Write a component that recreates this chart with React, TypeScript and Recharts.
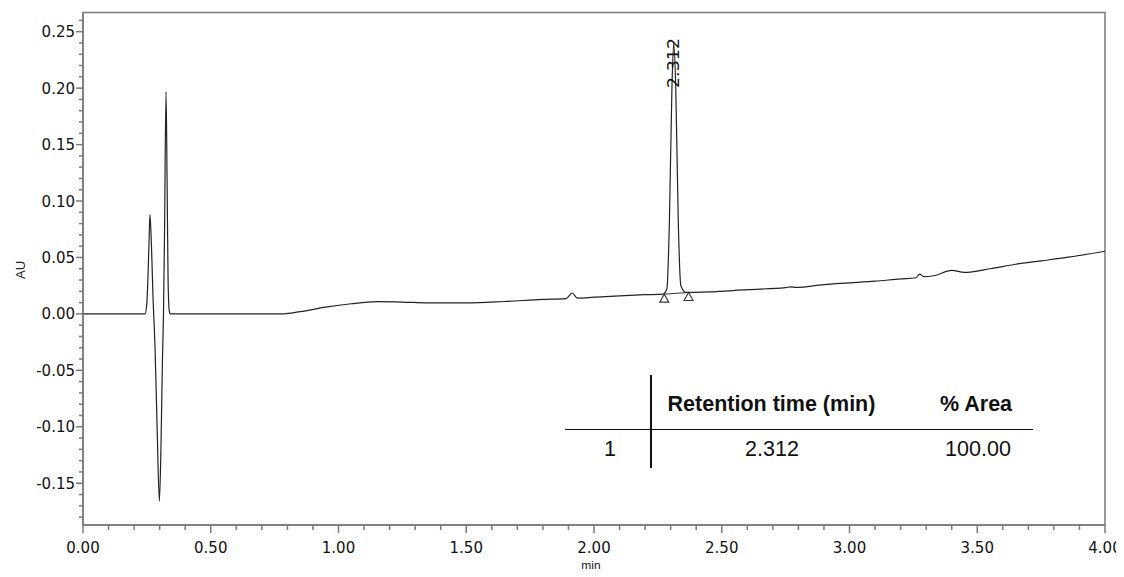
import React from "react";
import {
  ComposedChart,
  Line,
  Scatter,
  XAxis,
  YAxis,
  ReferenceArea,
  ReferenceDot,
  ReferenceLine,
} from "recharts";

// retention time (min) and absorbance (AU)
const times = [
  0, 0.2, 0.243, 0.25, 0.258, 0.262, 0.268, 0.274, 0.282, 0.29, 0.299, 0.305,
  0.311, 0.315, 0.319, 0.325, 0.329, 0.333, 0.337, 0.341, 0.5, 0.78, 0.85,
  0.95, 1.05, 1.15, 1.25, 1.35, 1.5, 1.65, 1.8, 1.89, 1.915, 1.935, 2.0, 2.1,
  2.2, 2.27, 2.285, 2.295, 2.305, 2.312, 2.32, 2.33, 2.34, 2.36, 2.45, 2.6,
  2.75, 2.77, 2.79, 2.9, 3.0, 3.1, 3.2, 3.26, 3.275, 3.29, 3.33, 3.4, 3.45,
  3.55, 3.65, 3.75, 3.85, 4.0,
];
const absorbance = [
  0, 0, 0, 0.01, 0.06, 0.088, 0.06, 0.015, -0.03, -0.1, -0.166, -0.12, -0.04,
  0.0, 0.07, 0.197, 0.12, 0.03, 0.004, 0, 0, 0, 0.002, 0.006, 0.009, 0.0108,
  0.0105, 0.0098, 0.0098, 0.011, 0.0128, 0.0135, 0.0185, 0.014, 0.0148, 0.016,
  0.017, 0.0175, 0.022, 0.08, 0.2, 0.24, 0.2, 0.08, 0.025, 0.019, 0.0195,
  0.0215, 0.0233, 0.024, 0.0235, 0.026, 0.0275, 0.029, 0.031, 0.032, 0.0352,
  0.033, 0.0338, 0.0385, 0.0368, 0.04, 0.044, 0.047, 0.05, 0.0555,
];

// integration start / end markers of the main peak
const markerTimes = [2.275, 2.37];
const markerValues = [0.0175, 0.019];

const peakTime = 2.312;
const peakValue = 0.24;
const peakLabel = "2.312";

const xTicks = Array.from({ length: 41 }, (_, i) => i / 10);
const yTicks = Array.from({ length: 45 }, (_, i) => (i - 18) / 100);

const tableHeader = ["", "Retention time (min)", "% Area"];
const tableRow = ["1", "2.312", "100.00"];

const xDomain: [number, number] = [0, 4];
const yDomain: [number, number] = [-0.187, 0.267];

const trace = times.map((t, i) => ({ t, au: absorbance[i] }));
const markers = markerTimes.map((t, i) => ({ t, au: markerValues[i] }));

const axisColor = "#7a7a7a";
const tickFont = "'DejaVu Sans', Verdana, sans-serif";

const XTick = (props: any) => {
  const { x, y, payload } = props;
  const v = payload.value as number;
  const major = Math.round(v * 10) % 5 === 0;
  return (
    <g>
      <line x1={x} x2={x} y1={y} y2={y + (major ? 8 : 5)} stroke={axisColor} strokeWidth={1.5} />
      {major && (
        <text x={x} y={y + 28} textAnchor="middle" fontSize={15} fontFamily={tickFont} fill="#111">
          {v.toFixed(2)}
        </text>
      )}
    </g>
  );
};

const YTick = (props: any) => {
  const { x, y, payload } = props;
  const v = payload.value as number;
  const major = Math.round(v * 100) % 5 === 0;
  return (
    <g>
      <line x1={x - (major ? 7 : 4)} x2={x} y1={y} y2={y} stroke={axisColor} strokeWidth={1.5} />
      {major && (
        <text x={x - 8} y={y + 5.5} textAnchor="end" fontSize={15} fontFamily={tickFont} fill="#111">
          {v.toFixed(2)}
        </text>
      )}
    </g>
  );
};

const Triangle = (props: any) => {
  const { cx, cy } = props;
  return (
    <polygon
      points={`${cx},${cy} ${cx - 4.5},${cy + 8} ${cx + 4.5},${cy + 8}`}
      fill="#fff"
      stroke="#333"
      strokeWidth={1.1}
    />
  );
};

const PeakLabel = (props: any) => {
  const { cx, cy } = props;
  const x0 = cx + 5.5;
  const y0 = cy + 45;
  return (
    <text
      x={x0}
      y={y0}
      transform={`rotate(-90, ${x0}, ${y0})`}
      fontSize={16}
      fontFamily={tickFont}
      fill="#111"
      textLength={50}
      lengthAdjust="spacingAndGlyphs"
    >
      {peakLabel}
    </text>
  );
};

const cellFont: React.CSSProperties = {
  position: "absolute",
  fontFamily: "'Liberation Sans', Arial, sans-serif",
  fontSize: 21.5,
  color: "#111",
  whiteSpace: "nowrap",
  transform: "translateX(-50%)",
  lineHeight: "24px",
};

export default function App() {
  return (
    <div style={{ position: "relative", width: 1108, height: 561 }}>
      <style>{`html, body { overflow: hidden; } .recharts-surface, .recharts-wrapper { overflow: visible !important; }`}</style>
      <ComposedChart
        width={1108}
        height={561}
        margin={{ top: 4.5, right: 11, bottom: 8, left: 15 }}
      >
        <XAxis
          dataKey="t"
          type="number"
          domain={xDomain}
          ticks={xTicks}
          interval={0}
          allowDataOverflow
          height={36}
          tickSize={0}
          tickMargin={0}
          tick={<XTick />}
          axisLine={{ stroke: axisColor, strokeWidth: 1.5 }}
        />
        <YAxis
          type="number"
          domain={yDomain}
          ticks={yTicks}
          interval={0}
          allowDataOverflow
          width={60}
          tickSize={0}
          tickMargin={0}
          tick={<YTick />}
          axisLine={{ stroke: axisColor, strokeWidth: 1.5 }}
        />
        <ReferenceArea
          x1={xDomain[0]}
          x2={xDomain[1]}
          y1={yDomain[0]}
          y2={yDomain[1]}
          fill="none"
          stroke={axisColor}
          strokeWidth={1.5}
          ifOverflow="visible"
        />
        <ReferenceLine
          segment={[
            { x: markerTimes[0], y: markerValues[0] },
            { x: markerTimes[1], y: markerValues[1] },
          ]}
          stroke="#333"
          strokeWidth={1}
        />
        <Line
          data={trace}
          dataKey="au"
          type="monotone"
          stroke="#222"
          strokeWidth={1.2}
          dot={false}
          isAnimationActive={false}
        />
        <Scatter
          data={markers}
          dataKey="au"
          shape={<Triangle />}
          isAnimationActive={false}
        />
        <ReferenceDot x={peakTime} y={peakValue} r={0} shape={<PeakLabel />} />
      </ComposedChart>

      {/* axis titles */}
      <div
        style={{
          position: "absolute",
          left: 12,
          top: 262,
          transform: "translate(-50%, -50%) rotate(-90deg)",
          fontFamily: "'Liberation Sans', Arial, sans-serif",
          fontSize: 13,
          color: "#222",
        }}
      >
        AU
      </div>
      <div
        style={{
          position: "absolute",
          left: 583,
          top: 551,
          transform: "translateX(-50%)",
          fontFamily: "'Liberation Sans', Arial, sans-serif",
          fontSize: 12,
          color: "#222",
          lineHeight: "14px",
        }}
      >
        min
      </div>

      {/* peak table */}
      <div style={{ position: "absolute", left: 642, top: 367, width: 1.5, height: 93, background: "#111" }} />
      <div style={{ position: "absolute", left: 557, top: 420.5, width: 468, height: 1.5, background: "#111" }} />
      <div style={{ ...cellFont, left: 763.5, top: 384, fontWeight: 700 }}>{tableHeader[1]}</div>
      <div style={{ ...cellFont, left: 968, top: 384, fontWeight: 700 }}>{tableHeader[2]}</div>
      <div style={{ ...cellFont, left: 602, top: 429 }}>{tableRow[0]}</div>
      <div style={{ ...cellFont, left: 764, top: 429 }}>{tableRow[1]}</div>
      <div style={{ ...cellFont, left: 970, top: 429 }}>{tableRow[2]}</div>
    </div>
  );
}
